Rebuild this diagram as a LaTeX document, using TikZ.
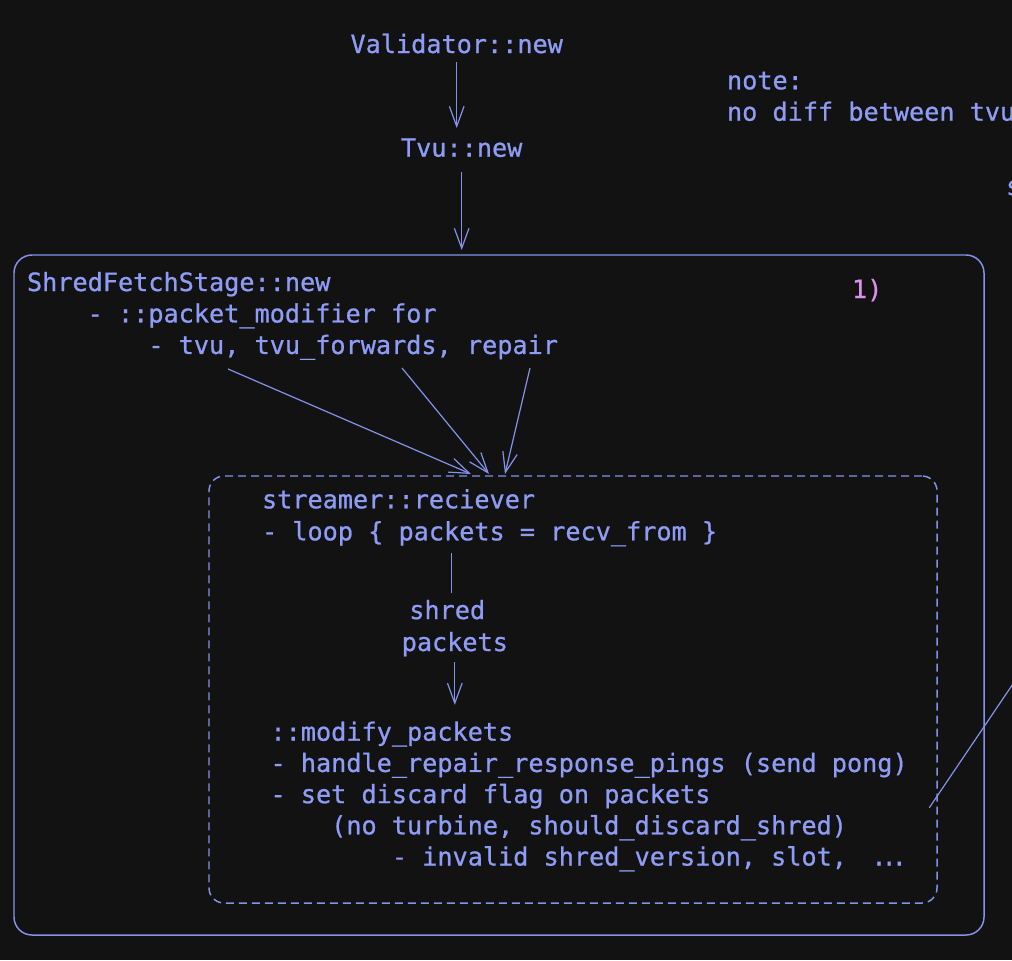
\documentclass[tikz,border=0pt]{standalone}
\usepackage{fontspec}
\newfontfamily\codefont[FakeBold=0.8]{DejaVu Sans Mono}
\usetikzlibrary{arrows.meta,calc}
\definecolor{bg}{RGB}{18,18,18}
\definecolor{ink}{RGB}{142,156,246}
\definecolor{wire}{RGB}{132,146,236}
\definecolor{pinkish}{RGB}{218,145,235}
\newlength\cw \setlength\cw{11.3787pt}
\newcommand\ind[1]{\hspace*{#1\cw}}
\tikzset{
  txt/.style={text=ink, inner sep=0pt, outer sep=0pt, anchor=base west,
    font=\codefont\fontsize{18.9pt}{23.6pt}\selectfont},
  wireline/.style={draw=wire, line width=0.9pt},
  arr/.style={wireline, -{Straight Barb[length=15pt,width=11pt,line width=0.9pt]}},
  boxline/.style={draw=wire, line width=1.1pt},
}
\begin{document}
\begin{tikzpicture}[x=0.75pt,y=-0.75pt]
\useasboundingbox (0,0) rectangle (1012,960);
\fill[bg] (0,0) rectangle (1012,960);
\clip (0,0) rectangle (1012,960);

% boxes
\node[boxline, rounded corners=13.5pt, minimum width=727.5pt, minimum height=510pt,
  inner sep=0pt, outer sep=0pt] (outer) at (499,595) {};
\node[boxline, dash pattern=on 6pt off 3.75pt, rounded corners=11.25pt,
  minimum width=546pt, minimum height=320.25pt, inner sep=0pt, outer sep=0pt] (inner) at (573,689.5) {};

% texts
\node[txt] (val) at (350.5,53) {Validator::new};
\node[txt] (tvu) at (401,156.7) {Tvu::new};
\node[txt] (note) at (727,89.3) {\vtop{\baselineskip=23.55pt
  \hbox{note:}\hbox{no diff between tvu}}};
\node[txt] (notes) at (1006,195) {s};
\node[txt] (sfs) at (27,291) {\vtop{\baselineskip=23.6pt
  \hbox{ShredFetchStage::new}
  \hbox{\ind{4}- ::packet\_modifier for}
  \hbox{\ind{8}- tvu, tvu\_forwards, repair}}};
\node[txt, text=pinkish] (one) at (852,298) {1)};
\node[txt] (recv) at (262,508.3) {\vtop{\baselineskip=24pt
  \hbox{streamer::reciever}
  \hbox{- loop \{ packets = recv\_from \}}}};
\node[txt] (lbl) at (401.7,619) {\vtop{\baselineskip=24pt
  \hbox{\hspace*{0.5\cw}shred}
  \hbox{packets}}};
\node[txt] (mod) at (270.5,740.7) {\vtop{\baselineskip=23.4pt
  \hbox{::modify\_packets}
  \hbox{- handle\_repair\_response\_pings (send pong)}
  \hbox{- set discard flag on packets}
  \hbox{\ind{4}(no turbine, should\_discard\_shred)}
  \hbox{\ind{8}- invalid shred\_version, slot,\kern18.3pt.\kern-3.75pt.\kern-3.75pt.}}};

% connector ends
\coordinate (fromTvuW) at (228,369);
\coordinate (fromFwd) at (402,368);
\coordinate (fromRep) at (530,368);
\coordinate (exitA) at (929.3,807.7);
\coordinate (exitB) at (1100,555);

% connectors
\draw[arr, shorten <=6.75pt, shorten >=7.7pt] (val.south) -- (val.south |- tvu.north);
\draw[arr, shorten <=11.25pt, shorten >=3.75pt] (tvu.south) -- (tvu.south |- outer.north);
\draw[arr] (fromTvuW) -- ($(inner.north)+(-102,-2)$);
\draw[arr] (fromFwd) -- ($(inner.north)+(-84,-2)$);
\draw[arr] (fromRep) -- ($(inner.north)+(-68,-2)$);
\draw[wireline] ($(lbl.north)+(-3,-47)$) -- ($(lbl.north)+(-3,-7)$);
\draw[arr, shorten <=4.5pt, shorten >=12.5pt] (lbl.south) -- (lbl.south |- mod.north);
\draw[wireline] (exitA) -- (exitB);
\end{tikzpicture}
\end{document}
